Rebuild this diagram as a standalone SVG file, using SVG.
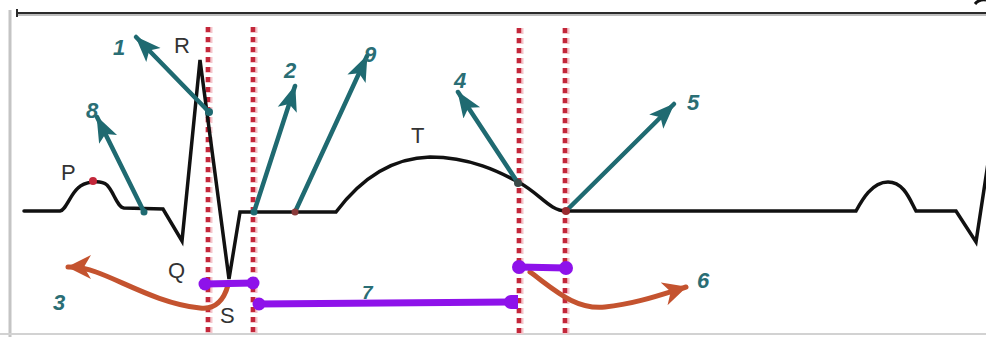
<svg xmlns="http://www.w3.org/2000/svg" width="986" height="337" viewBox="0 0 986 337">
  <style>
    .ecg { fill: none; stroke: #111; stroke-width: 3.5; stroke-linejoin: miter; stroke-linecap: round; }
    .guide-halo { stroke: #f4c6cc; stroke-width: 7; stroke-dasharray: 6 4; fill: none; }
    .guide { stroke: #c3273a; stroke-width: 4.5; stroke-dasharray: 5 5; fill: none; }
    .pointer { stroke: #1f6a71; stroke-width: 4.5; fill: none; stroke-linecap: round; marker-end: url(#tealHead); }
    .sweep { stroke: #c4532f; stroke-width: 5; fill: none; stroke-linecap: round; }
    .bar { stroke: #8e12ea; stroke-width: 7; fill: none; }
    .cap { fill: #8e12ea; }
    .wave { font-family: "Liberation Sans", Arial, sans-serif; font-size: 22px; fill: #333; }
    .num { font-family: "Liberation Sans", Arial, sans-serif; font-size: 22px; font-weight: bold; font-style: italic; fill: #2a6e75; }
  </style>
  <defs>
    <marker id="tealHead" markerUnits="userSpaceOnUse" markerWidth="27" markerHeight="22" viewBox="0 0 27 22" refX="25" refY="11" orient="auto">
      <path d="M0,1 L26,11 L0,21 L6,11 Z" fill="#1f6a71"/>
    </marker>
    <marker id="rustHead" markerUnits="userSpaceOnUse" markerWidth="26" markerHeight="24" viewBox="0 0 26 24" refX="23" refY="12" orient="auto">
      <path d="M0,0 L24,12 L0,24 L7,12 Z" fill="#c4532f"/>
    </marker>
  </defs>

  <rect x="0" y="0" width="986" height="337" fill="#ffffff"/>

  <!-- frame -->
  <g id="frame">
    <line x1="10" y1="10" x2="10" y2="337" stroke="#c4c4c4" stroke-width="3"/>
    <line x1="17" y1="15" x2="986" y2="15" stroke="#bdbdbd" stroke-width="2"/>
    <line x1="17" y1="13" x2="986" y2="13" stroke="#2b2b2b" stroke-width="2.2"/>
    <line x1="17" y1="9" x2="17" y2="17" stroke="#2b2b2b" stroke-width="2"/>
    <line x1="0" y1="334" x2="986" y2="334" stroke="#d2d2d2" stroke-width="2"/>
    <path d="M975 4 Q979 -1 986 0" fill="none" stroke="#111" stroke-width="3"/>
  </g>

  <!-- interval guides -->
  <g id="guides">
    <line class="guide-halo" x1="209" y1="27" x2="209" y2="337"/>
    <line class="guide-halo" x1="254" y1="27" x2="254" y2="337"/>
    <line class="guide-halo" x1="520" y1="28" x2="520" y2="337"/>
    <line class="guide-halo" x1="566" y1="28" x2="566" y2="337"/>
    <line class="guide" x1="208" y1="27" x2="208" y2="337"/>
    <line class="guide" x1="253" y1="27" x2="253" y2="337"/>
    <line class="guide" x1="519" y1="28" x2="519" y2="337"/>
    <line class="guide" x1="565" y1="28" x2="565" y2="337"/>
  </g>

  <!-- ECG trace -->
  <g id="trace">
    <path class="ecg" d="M24 211 L60 211 C66 210 70 195 78 188 C84 182 100 179 107 185 C114 192 117 207 124 208 L163 209 L182 241 L200 60 L229 279 L240 212 L336 212 C360 180 390 158 430 157 C470 157 500 172 520 183 C540 194 550 211 566 211 L856 211 C862 200 872 182 888 182 C904 182 910 200 916 211 L956 211 L976 242 L990 150"/>
    <circle cx="93" cy="181" r="4" fill="#c3273a"/>
  </g>

  <!-- wave labels -->
  <g id="wave-labels">
    <text class="wave" x="174" y="53">R</text>
    <text class="wave" x="61" y="180">P</text>
    <text class="wave" x="168" y="278">Q</text>
    <text class="wave" x="220" y="323">S</text>
    <text class="wave" x="411" y="143">T</text>
  </g>

  <!-- connectors -->
  <g id="connectors">
    <path class="pointer" d="M209 112 L136 37"/>
    <path class="pointer" d="M144 212 L97 117"/>
    <path class="pointer" d="M254 212 L295 86"/>
    <path class="pointer" d="M295 212 L367 56"/>
    <path class="pointer" d="M518 183 L458 92"/>
    <path class="pointer" d="M566 211 L674 104"/>
    <circle cx="209" cy="112" r="4" fill="#1f6a71"/>
    <circle cx="144" cy="212" r="3.5" fill="#1f6a71"/>
    <circle cx="254" cy="212" r="3.5" fill="#1f6a71"/>
    <circle cx="295" cy="212" r="3.5" fill="#8a3a3a"/>
    <circle cx="518" cy="183" r="4" fill="#3a4a48"/>
    <circle cx="566" cy="211" r="4" fill="#9a2a30"/>

    <path class="sweep" marker-end="url(#rustHead)" d="M228 285 C224 300 215 310 200 308 C160 304 122 281 96 272 C86 268 80 267 68 267"/>
    <path class="sweep" marker-end="url(#rustHead)" d="M530 272 C555 290 575 310 605 307 C635 304 660 295 686 287"/>
  </g>

  <!-- interval bars -->
  <g id="bar-qrs">
    <line class="bar" x1="205" y1="284" x2="253" y2="283"/>
    <circle class="cap" cx="205" cy="284" r="6.5"/>
    <circle class="cap" cx="253" cy="283" r="6.5"/>
  </g>
  <g id="bar-st">
    <line class="bar" x1="258" y1="304" x2="516" y2="302"/>
    <circle class="cap" cx="259" cy="304" r="6.5"/>
    <circle class="cap" cx="511" cy="302" r="7"/>
    <rect class="cap" x="511" y="295" width="7" height="14"/>
  </g>
  <g id="bar-t">
    <line class="bar" x1="519" y1="267" x2="566" y2="268"/>
    <circle class="cap" cx="519" cy="267" r="7"/>
    <circle class="cap" cx="566" cy="268" r="7"/>
  </g>

  <!-- numbered callouts -->
  <g id="callouts">
    <text class="num" x="113" y="55">1</text>
    <text class="num" x="86" y="118">8</text>
    <text class="num" x="284" y="78">2</text>
    <text class="num" x="364" y="62">9</text>
    <text class="num" x="454" y="88">4</text>
    <text class="num" x="687" y="110">5</text>
    <text class="num" x="697" y="288">6</text>
    <text class="num" x="53" y="310">3</text>
    <text class="num" x="362" y="299" style="font-size:19px">7</text>
  </g>
</svg>
